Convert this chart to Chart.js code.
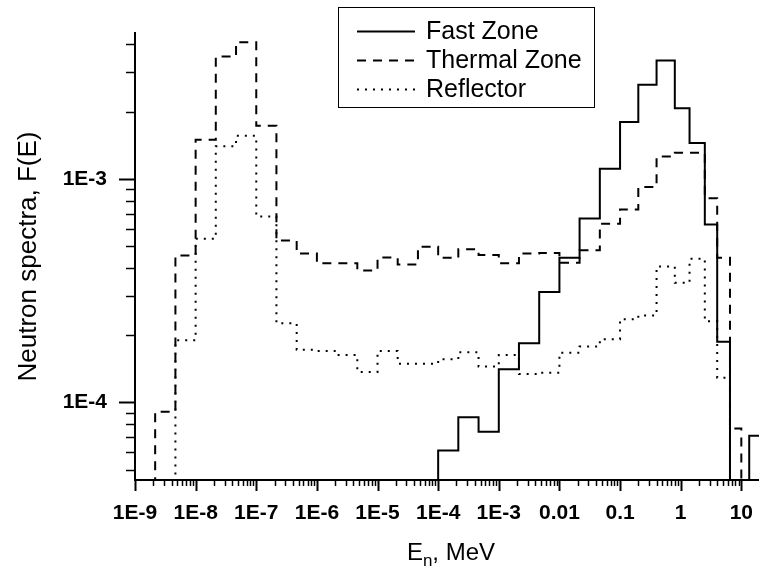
<!DOCTYPE html>
<html>
<head>
<meta charset="utf-8">
<script src="https://cdn.jsdelivr.net/npm/chart.js@4.4.1/dist/chart.umd.min.js"></script>
<style>
  html, body { margin: 0; padding: 0; background: #fff; }
</style>
</head>
<body>
<canvas id="spectra" width="766" height="569"></canvas>
<script>
// value used for bins that fall below the bottom of the y axis
const BELOW = 1e-5;

// group boundaries, MeV (1/3 decade up to 0.1 MeV, coarser above)
const binEdges = [
  1e-9, 2.15e-9, 4.64e-9, 1e-8, 2.15e-8, 4.64e-8, 1e-7, 2.15e-7, 4.64e-7,
  1e-6, 2.15e-6, 4.64e-6, 1e-5, 2.15e-5, 4.64e-5, 1e-4, 2.15e-4, 4.64e-4,
  1e-3, 2.15e-3, 4.64e-3, 0.01, 0.0215, 0.0464, 0.1, 0.2, 0.4, 0.8, 1.4,
  2.5, 4, 6.5, 10, 13.5, 20,
];

// one value per group
const fastZone = [
  BELOW, BELOW, BELOW, BELOW, BELOW, BELOW, BELOW, BELOW, BELOW, BELOW,
  BELOW, BELOW, BELOW, BELOW, BELOW, 6.1e-5, 8.6e-5, 7.4e-5, 1.41e-4, 1.84e-4,
  3.12e-4, 4.44e-4, 6.65e-4, 1.11e-3, 1.8e-3, 2.64e-3, 3.39e-3, 2.07e-3, 1.45e-3, 6.25e-4,
  1.87e-4, BELOW, BELOW, 7.1e-5,
];

const thermalZone = [
  BELOW, 9.1e-5, 4.55e-4, 1.5e-3, 3.53e-3, 4.09e-3, 1.73e-3, 5.3e-4, 4.64e-4, 4.2e-4,
  4.2e-4, 3.9e-4, 4.45e-4, 4.14e-4, 4.97e-4, 4.44e-4, 4.85e-4, 4.57e-4, 4.2e-4, 4.64e-4,
  4.67e-4, 4.22e-4, 4.8e-4, 6.3e-4, 7.3e-4, 9.2e-4, 1.26e-3, 1.31e-3, 1.31e-3, 8.2e-4,
  4.44e-4, 7.65e-5, BELOW, BELOW,
];

const reflector = [
  BELOW, BELOW, 1.9e-4, 5.4e-4, 1.4e-3, 1.56e-3, 6.8e-4, 2.26e-4, 1.72e-4, 1.7e-4,
  1.63e-4, 1.37e-4, 1.7e-4, 1.49e-4, 1.49e-4, 1.56e-4, 1.68e-4, 1.45e-4, 1.63e-4, 1.34e-4,
  1.36e-4, 1.67e-4, 1.78e-4, 1.92e-4, 2.36e-4, 2.45e-4, 4.06e-4, 3.43e-4, 4.4e-4, 2.31e-4,
  1.29e-4, BELOW, BELOW, BELOW,
];

const seriesNames = ['Fast Zone', 'Thermal Zone', 'Reflector'];
const seriesDash = [[], [9, 7], [2, 6]];

const xTickValues = [1e-9, 1e-8, 1e-7, 1e-6, 1e-5, 1e-4, 1e-3, 0.01, 0.1, 1, 10];
const xTickLabels = ['1E-9', '1E-8', '1E-7', '1E-6', '1E-5', '1E-4', '1E-3', '0.01', '0.1', '1', '10'];
const yTickValues = [1e-4, 1e-3];
const yTickLabels = ['1E-4', '1E-3'];

const X_MIN = 1e-9;
const X_MAX = 19.5;
const Y_MIN = 4.5e-5;
const Y_MAX = 4.5e-3;

const FONT = '"Liberation Sans", Arial, sans-serif';

// histogram: one point per left edge, last point closes the final group
const toSteps = (values) => binEdges.map((e, i) => ({
  x: e,
  y: values[Math.min(i, values.length - 1)],
}));

const sameValue = (a, b) => Math.abs(a / b - 1) < 1e-6;

const logTicks = (min, max) => {
  const out = [];
  for (let p = Math.floor(Math.log10(min)); p <= Math.ceil(Math.log10(max)); p++) {
    for (let m = 1; m <= 9; m++) {
      const v = m * Math.pow(10, p);
      if (v >= min * 0.9999 && v <= max * 1.0001) out.push({ value: v });
    }
  }
  return out;
};

const labelFor = (values, labels) => (v) => {
  const i = values.findIndex((t) => sameValue(t, v));
  return i < 0 ? '' : labels[i];
};

// tick marks drawn on the axes: long for decades, short for the rest
const tickMarks = {
  id: 'tickMarks',
  afterDraw(chart) {
    const { ctx, chartArea } = chart;
    const { x, y } = chart.scales;
    ctx.save();
    ctx.strokeStyle = '#000';
    x.ticks.forEach((t) => {
      const major = xTickValues.some((v) => sameValue(v, t.value));
      const px = Math.round(x.getPixelForValue(t.value)) + 0.5;
      ctx.lineWidth = major ? 2 : 1.5;
      ctx.beginPath();
      ctx.moveTo(px, chartArea.bottom);
      ctx.lineTo(px, chartArea.bottom + (major ? 11 : 6));
      ctx.stroke();
    });
    y.ticks.forEach((t) => {
      const major = yTickValues.some((v) => sameValue(v, t.value));
      const py = Math.round(y.getPixelForValue(t.value)) + 0.5;
      ctx.lineWidth = major ? 2 : 1.5;
      ctx.beginPath();
      ctx.moveTo(chartArea.left, py);
      ctx.lineTo(chartArea.left - (major ? 16 : 9), py);
      ctx.stroke();
    });
    ctx.restore();
  },
};

// framed legend and the x title with its subscript
const extras = {
  id: 'extras',
  afterDraw(chart) {
    const { ctx, chartArea } = chart;
    ctx.save();
    ctx.fillStyle = '#fff';
    ctx.fillRect(338, 7, 256, 100);
    ctx.strokeStyle = '#000';
    ctx.lineWidth = 1;
    ctx.strokeRect(338.5, 7.5, 256, 100);

    const rows = [31, 60, 89];
    ctx.font = '25px ' + FONT;
    ctx.textBaseline = 'middle';
    ctx.fillStyle = '#000';
    seriesNames.forEach((name, i) => {
      ctx.beginPath();
      ctx.setLineDash(seriesDash[i]);
      ctx.lineWidth = 2;
      ctx.moveTo(357, rows[i] + 0.5);
      ctx.lineTo(415, rows[i] + 0.5);
      ctx.stroke();
      ctx.setLineDash([]);
      ctx.fillText(name, 426, rows[i] + 1);
    });

    const big = '24px ' + FONT;
    const small = '17px ' + FONT;
    ctx.font = big;
    const wE = ctx.measureText('E').width;
    const wRest = ctx.measureText(', MeV').width;
    ctx.font = small;
    const wN = ctx.measureText('n').width;
    const cx = (chartArea.left + chartArea.right) / 2 + 4;
    const sx = cx - (wE + wN + wRest) / 2;
    const base = 560;
    ctx.textBaseline = 'alphabetic';
    ctx.font = big;
    ctx.fillText('E', sx, base);
    ctx.font = small;
    ctx.fillText('n', sx + wE, base + 6);
    ctx.font = big;
    ctx.fillText(', MeV', sx + wE + wN, base);
    ctx.restore();
  },
};

const datasets = [fastZone, thermalZone, reflector].map((values, i) => ({
  label: seriesNames[i],
  data: toSteps(values),
  stepped: 'before',
  borderColor: '#000',
  borderWidth: 2,
  borderDash: seriesDash[i],
  pointRadius: 0,
  fill: false,
}));

new Chart(document.getElementById('spectra'), {
  type: 'line',
  data: { datasets },
  options: {
    responsive: false,
    animation: false,
    devicePixelRatio: 1,
    layout: { padding: { top: 33, right: 0, left: 0, bottom: 0 } },
    plugins: {
      legend: { display: false },
      tooltip: { enabled: false },
    },
    scales: {
      x: {
        type: 'logarithmic',
        min: X_MIN,
        max: X_MAX,
        afterBuildTicks: (scale) => { scale.ticks = logTicks(X_MIN, X_MAX); },
        afterFit: (scale) => { scale.height = 89; },
        grid: { display: false },
        border: { display: true, color: '#000', width: 2 },
        ticks: {
          autoSkip: false,
          maxRotation: 0,
          padding: 13,
          color: '#000',
          font: { family: FONT, size: 21, weight: 'bold' },
          callback: labelFor(xTickValues, xTickLabels),
        },
      },
      y: {
        type: 'logarithmic',
        min: Y_MIN,
        max: Y_MAX,
        afterBuildTicks: (scale) => { scale.ticks = logTicks(Y_MIN, Y_MAX); },
        afterFit: (scale) => { scale.width = 135; },
        grid: { display: false },
        border: { display: true, color: '#000', width: 2 },
        title: {
          display: true,
          text: 'Neutron spectra, F(E)',
          color: '#000',
          font: { family: FONT, size: 26 },
          padding: { top: 13, bottom: 0 },
        },
        ticks: {
          autoSkip: false,
          padding: 20,
          color: '#000',
          font: { family: FONT, size: 21, weight: 'bold' },
          callback: labelFor(yTickValues, yTickLabels),
        },
      },
    },
  },
  plugins: [tickMarks, extras],
});
</script>
</body>
</html>
